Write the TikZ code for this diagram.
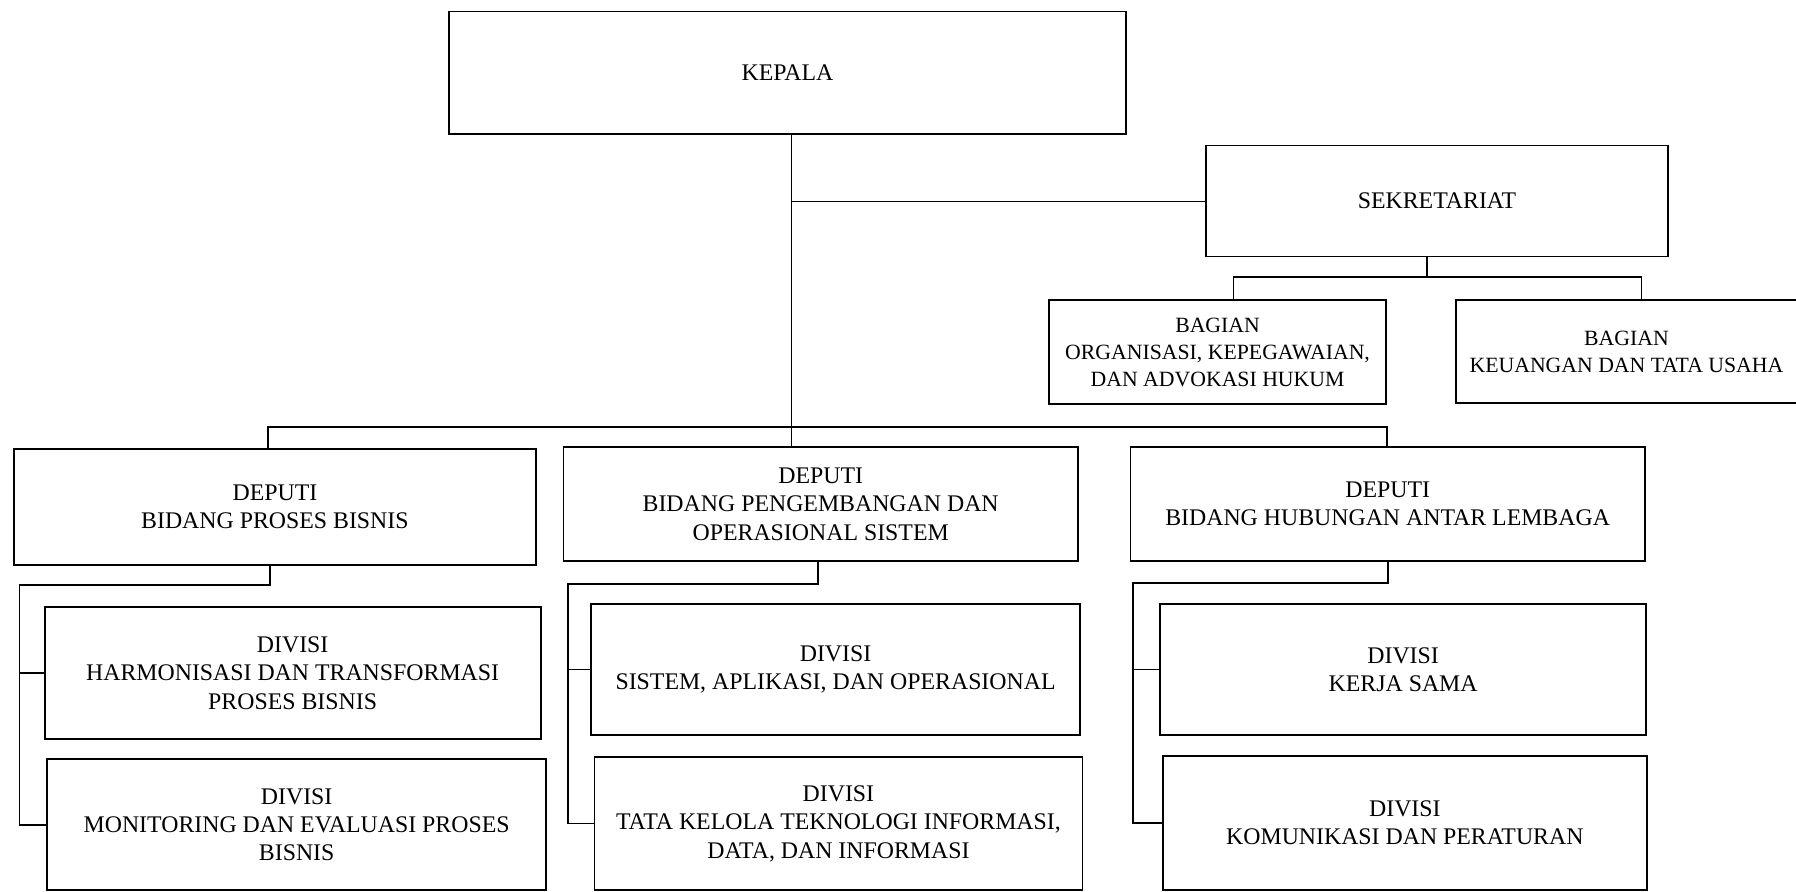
\documentclass[tikz,border=0pt]{standalone}
\usepackage{fontspec}
\setmainfont{Liberation Serif}
\begin{document}
\begin{tikzpicture}[x=1pt,y=-1pt,
  box/.style={draw, line width=1.6pt, inner sep=0pt, outer sep=0pt, align=center,
    font=\fontsize{20.8}{24.8}\selectfont},
  sbox/.style={box, font=\fontsize{19}{23.5}\selectfont},
  ln/.style={line width=1.5pt}]
\useasboundingbox (0,0) rectangle (1568,778);
\clip (0,0) rectangle (1568,778);
\fill[white] (0,0) rectangle (1568,778);
% nodes
\node[box, minimum width=591pt, minimum height=107pt] (kepala) at (687.5,63.5) {KEPALA};
\node[box, minimum width=403pt, minimum height=97pt] (sek) at (1254.5,175.5) {SEKRETARIAT};
\node[sbox, minimum width=294pt, minimum height=91pt] (bag1) at (1063,307.5) {BAGIAN\\ORGANISASI, KEPEGAWAIAN,\\DAN ADVOKASI HUKUM};
\node[sbox, minimum width=298pt, minimum height=90pt] (bag2) at (1420,307) {BAGIAN\\KEUANGAN DAN TATA USAHA};
\node[box, minimum width=456pt, minimum height=101pt] (dep1) at (240,442.5) {DEPUTI\\BIDANG PROSES BISNIS};
\node[box, minimum width=449pt, minimum height=100pt] (dep2) at (716.5,440) {DEPUTI\\BIDANG PENGEMBANGAN DAN\\OPERASIONAL SISTEM};
\node[box, minimum width=449pt, minimum height=100pt] (dep3) at (1211.5,440) {DEPUTI\\BIDANG HUBUNGAN ANTAR LEMBAGA};
\node[box, minimum width=433pt, minimum height=115pt] (divH) at (255.5,587.5) {DIVISI\\HARMONISASI DAN TRANSFORMASI\\PROSES BISNIS};
\node[box, minimum width=436pt, minimum height=114pt] (divM) at (259,720) {DIVISI\\MONITORING DAN EVALUASI PROSES\\BISNIS};
\node[box, minimum width=427pt, minimum height=115pt] (divS) at (729.5,584.5) {DIVISI\\SISTEM, APLIKASI, DAN OPERASIONAL};
\node[box, minimum width=426pt, minimum height=116pt] (divT) at (732,719) {DIVISI\\TATA KELOLA TEKNOLOGI INFORMASI,\\DATA, DAN INFORMASI};
\node[box, minimum width=424pt, minimum height=115pt] (divK) at (1225,584.5) {DIVISI\\KERJA SAMA};
\node[box, minimum width=423pt, minimum height=117pt] (divKom) at (1226.5,718.5) {DIVISI\\KOMUNIKASI DAN PERATURAN};
% junctions
\coordinate (jS) at (691,176);
\coordinate (jL) at (234,373);
\coordinate (jR) at (1211,373);
\coordinate (s0) at (1246,242);
\coordinate (sL) at (1077,242);
\coordinate (sR) at (1433,242);
\coordinate (a1) at (236,511);
\coordinate (b1) at (17,511);
\coordinate (a2) at (714,510);
\coordinate (b2) at (496,510);
\coordinate (a3) at (1212,509);
\coordinate (b3) at (989,509);
% connectors
\draw[ln] (kepala.south -| jS) -- (dep2.north -| jS);
\draw[ln] (jS) -- (jS -| sek.west);
\draw[ln] (dep1.north -| jL) -- (jL) -- (jR) -- (dep3.north -| jR);
\draw[ln] (sek.south -| s0) -- (s0);
\draw[ln] (bag1.north -| sL) -- (sL) -- (sR) -- (bag2.north -| sR);
\draw[ln] (dep1.south -| a1) -- (a1) -- (b1) -- (b1 |- divM.west) -- (divM.west);
\draw[ln] (b1 |- divH.west) -- (divH.west);
\draw[ln] (dep2.south -| a2) -- (a2) -- (b2) -- (b2 |- divT.west) -- (divT.west);
\draw[ln] (b2 |- divS.west) -- (divS.west);
\draw[ln] (dep3.south -| a3) -- (a3) -- (b3) -- (b3 |- divKom.west) -- (divKom.west);
\draw[ln] (b3 |- divK.west) -- (divK.west);
\end{tikzpicture}
\end{document}
